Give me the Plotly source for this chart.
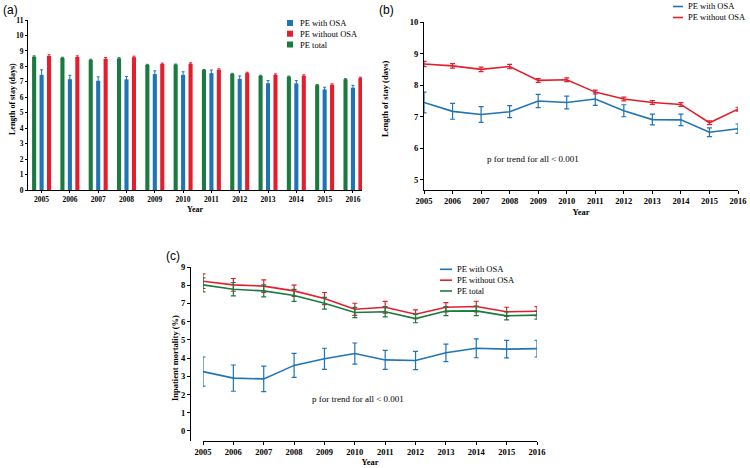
import plotly.graph_objects as go

years = list(range(2005, 2017))

# Panel (a)/(b): Length of stay (days)
los_with_osa = [7.45, 7.17, 7.07, 7.16, 7.50, 7.45, 7.56, 7.19, 6.91, 6.90, 6.51, 6.62]
los_with_osa_err = [0.33, 0.25, 0.25, 0.19, 0.21, 0.20, 0.20, 0.19, 0.17, 0.18, 0.14, 0.15]
los_without_osa = [8.67, 8.61, 8.50, 8.59, 8.15, 8.17, 7.78, 7.56, 7.45, 7.39, 6.81, 7.24]
los_without_osa_err = [0.08, 0.07, 0.07, 0.07, 0.06, 0.06, 0.06, 0.06, 0.06, 0.06, 0.06, 0.06]
los_total = [8.63, 8.54, 8.41, 8.51, 8.09, 8.11, 7.76, 7.51, 7.38, 7.33, 6.78, 7.16]
los_total_err = [0.05, 0.05, 0.05, 0.05, 0.04, 0.04, 0.04, 0.04, 0.04, 0.04, 0.04, 0.04]

# Panel (c): Inpatient mortality (%)
mort_with_osa = [3.26, 2.90, 2.86, 3.60, 3.96, 4.25, 3.90, 3.87, 4.29, 4.54, 4.49, 4.52]
mort_with_osa_err = [0.80, 0.72, 0.70, 0.66, 0.58, 0.58, 0.52, 0.50, 0.48, 0.52, 0.48, 0.46]
mort_without_osa = [8.22, 8.02, 7.95, 7.69, 7.27, 6.68, 6.79, 6.41, 6.79, 6.83, 6.54, 6.57]
mort_without_osa_err = [0.40, 0.35, 0.34, 0.31, 0.33, 0.33, 0.32, 0.24, 0.26, 0.29, 0.25, 0.26]
mort_total = [8.02, 7.78, 7.69, 7.44, 7.01, 6.50, 6.54, 6.17, 6.58, 6.59, 6.32, 6.36]
mort_total_err = [0.38, 0.37, 0.33, 0.33, 0.32, 0.28, 0.28, 0.23, 0.25, 0.26, 0.22, 0.22]

BLUE = "#1f74b8"
RED = "#e41f2d"
GREEN = "#1a7a40"
SERIF = "Times New Roman, Liberation Serif, DejaVu Serif, serif"
SANS = "Liberation Sans, Arial, sans-serif"

W, H = 750, 468
def fx(px):
    return px / W
def fy(py):
    return 1 - py / H

fig = go.Figure()

# ---------- Panel (a): bars ----------
for name, vals, errs, col in [
    ("PE total", los_total, los_total_err, GREEN),
    ("PE with OSA", los_with_osa, los_with_osa_err, BLUE),
    ("PE without OSA", los_without_osa, los_without_osa_err, RED),
]:
    fig.add_trace(go.Bar(
        x=years, y=vals, name=name, marker=dict(color=col, line=dict(width=0)),
        error_y=dict(type="data", array=errs, visible=True, color=col, thickness=1, width=1.5),
        xaxis="x", yaxis="y", showlegend=False,
    ))

# ---------- Panel (b): lines ----------
for name, vals, errs, col in [
    ("PE with OSA", los_with_osa, los_with_osa_err, BLUE),
    ("PE without OSA", los_without_osa, los_without_osa_err, RED),
]:
    fig.add_trace(go.Scatter(
        x=years, y=vals, name=name, mode="lines", line=dict(color=col, width=1.6),
        error_y=dict(type="data", array=errs, visible=True, color=col, thickness=1.2, width=2.5),
        xaxis="x2", yaxis="y2", showlegend=False, cliponaxis=False,
    ))

# ---------- Panel (c): lines ----------
for name, vals, errs, col in [
    ("PE with OSA", mort_with_osa, mort_with_osa_err, BLUE),
    ("PE without OSA", mort_without_osa, mort_without_osa_err, RED),
    ("PE total", mort_total, mort_total_err, GREEN),
]:
    fig.add_trace(go.Scatter(
        x=years, y=vals, name=name, mode="lines", line=dict(color=col, width=1.6),
        error_y=dict(type="data", array=errs, visible=True, color=col, thickness=1.2, width=2.5),
        xaxis="x3", yaxis="y3", showlegend=False, cliponaxis=False,
    ))

tickfont = dict(family=SERIF, size=8.5, color="black", weight="bold")
tickfont_a = dict(family=SERIF, size=7.5, color="black", weight="bold")
titlefont = dict(family=SERIF, size=8.5, color="black", weight="bold")
axbase = dict(showgrid=False, zeroline=False, showline=True, linecolor="black", linewidth=1.2,
              ticks="outside", tickwidth=1, tickcolor="black", automargin=False)
axcommon = dict(axbase, ticklen=3, tickfont=tickfont)
axa = dict(axbase, ticklen=2, tickfont=tickfont_a)

legfont = dict(family=SERIF, size=8.5, color="black")

# ---------- custom legends (keys + labels) ----------
shapes = []
annotations = []

def legend_rows(entries, key_x0, key_x1, text_x, rows_y, kind, key_h=6):
    for (label, col), ry in zip(entries, rows_y):
        if kind == "box":
            shapes.append(dict(type="rect", xref="paper", yref="paper",
                               x0=fx(key_x0), x1=fx(key_x1), y0=fy(ry + key_h / 2), y1=fy(ry - key_h / 2),
                               fillcolor=col, line=dict(width=0)))
        else:
            shapes.append(dict(type="line", xref="paper", yref="paper",
                               x0=fx(key_x0), x1=fx(key_x1), y0=fy(ry), y1=fy(ry),
                               line=dict(color=col, width=1.6)))
        annotations.append(dict(text=label, x=fx(text_x), y=fy(ry), xref="paper", yref="paper",
                                xanchor="left", yanchor="middle", showarrow=False, font=legfont))

legend_rows([("PE with OSA", BLUE), ("PE without OSA", RED), ("PE total", GREEN)],
            287, 293, 298, [23, 33.7, 44.5], "box")
legend_rows([("PE with OSA", BLUE), ("PE without OSA", RED)],
            673, 683, 686, [6.5, 17.5], "line")
legend_rows([("PE with OSA", BLUE), ("PE without OSA", RED), ("PE total", GREEN)],
            440, 452, 455, [269.3, 280.2, 291], "line")

def ytitle(text, px, py, size=8.5):
    annotations.append(dict(text=text, x=fx(px), y=fy(py), xref="paper", yref="paper",
                            xanchor="center", yanchor="middle", textangle=-90, showarrow=False,
                            font=dict(titlefont, size=size)))

ytitle("Length of stay (days)", 12, 99, 8)
ytitle("Length of stay (days)", 385, 99)
ytitle("Inpatient mortality (%)", 175, 358)

annotations += [
    dict(text="(a)", x=fx(1), y=fy(1), xref="paper", yref="paper", xanchor="left", yanchor="top",
         showarrow=False, font=dict(family=SANS, size=12, color="black")),
    dict(text="(b)", x=fx(377), y=fy(1), xref="paper", yref="paper", xanchor="left", yanchor="top",
         showarrow=False, font=dict(family=SANS, size=12, color="black")),
    dict(text="(c)", x=fx(164), y=fy(247), xref="paper", yref="paper", xanchor="left", yanchor="top",
         showarrow=False, font=dict(family=SANS, size=12, color="black")),
    dict(text="p for trend for all < 0.001", x=fx(581), y=fy(152), xref="paper", yref="paper",
         showarrow=False, font=dict(family=SERIF, size=9, color="black")),
    dict(text="p for trend for all < 0.001", x=fx(358), y=fy(406), xref="paper", yref="paper",
         showarrow=False, font=dict(family=SERIF, size=9, color="black")),
]

fig.update_layout(
    width=W, height=H, margin=dict(l=0, r=0, t=0, b=0, autoexpand=False),
    paper_bgcolor="white", plot_bgcolor="white",
    barmode="group", bargap=0.21, bargroupgap=0.45,
    showlegend=False,
    xaxis=dict(domain=[fx(28), fx(362)], range=[2004.52, 2016.32], anchor="y",
               tickvals=years, title=dict(text="Year", font=dict(titlefont, size=8), standoff=3), **axa),
    yaxis=dict(domain=[fy(190), fy(20)], range=[0, 11], anchor="x", dtick=1, **axa),
    xaxis2=dict(domain=[fx(424), fx(738)], range=[2005, 2016], anchor="y2",
                tickvals=years, title=dict(text="Year", font=titlefont, standoff=3), **axcommon),
    yaxis2=dict(domain=[fy(190), fy(22)], range=[4.68, 10], anchor="x2", tickvals=[5, 6, 7, 8, 9, 10],
                **axcommon),
    xaxis3=dict(domain=[fx(203), fx(537)], range=[2005, 2016], anchor="y3",
                tickvals=years, title=dict(text="Year", font=titlefont, standoff=2), **axcommon),
    yaxis3=dict(domain=[fy(441), fy(267)], range=[-0.55, 9], anchor="free", position=fx(190),
                tickvals=list(range(0, 10)), **axcommon),
    shapes=shapes,
    annotations=annotations,
)

fig.write_html("out.html", config={"displayModeBar": False},
               post_script="document.body.style.margin='0px';document.body.style.overflow='hidden';")
